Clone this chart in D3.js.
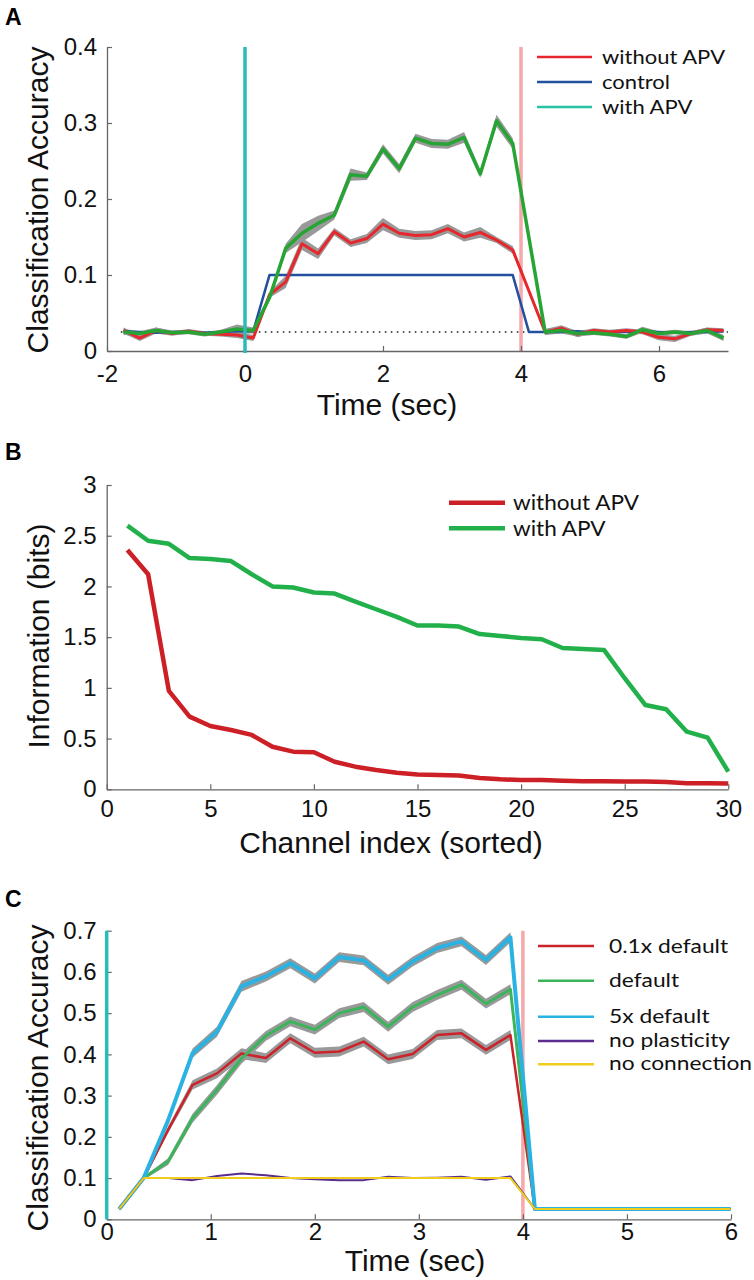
<!DOCTYPE html>
<html>
<head>
<meta charset="utf-8">
<script src="https://cdn.jsdelivr.net/npm/d3@7"></script>
<style>
  html, body { margin: 0; padding: 0; background: #fff; }
  svg { display: block; }
  .tick text { font-family: "Liberation Sans", Arial, sans-serif; font-size: 24px; fill: #111; }
  .axlabel { font-family: "Liberation Sans", Arial, sans-serif; font-size: 30px; fill: #111; }
  .legend text { font-family: Lato, "Open Sans", sans-serif; fill: #111; }
  .panel { font-family: "Liberation Sans", Arial, sans-serif; font-size: 23px; font-weight: bold; fill: #000; }
</style>
</head>
<body>
<script>
// ---------------- Panel A data ----------------
const timesA = [-1.76,-1.525,-1.29,-1.055,-0.82,-0.585,-0.35,-0.115,0.12,0.355,0.59,0.825,1.06,1.295,1.53,1.765,2.0,2.235,2.47,2.705,2.94,3.175,3.41,3.645,3.88,4.115,4.35,4.585,4.82,5.055,5.29,5.525,5.76,5.995,6.23,6.465,6.7,6.935];
const withoutAPV_A = [0.027,0.017,0.027,0.023,0.026,0.023,0.022,0.021,0.017,0.074,0.091,0.141,0.128,0.157,0.142,0.148,0.167,0.155,0.152,0.153,0.161,0.150,0.156,0.146,0.133,0.079,0.025,0.030,0.022,0.027,0.025,0.027,0.025,0.018,0.016,0.023,0.028,0.027];
const withoutAPV_A_sem = [0.004,0.004,0.004,0.003,0.003,0.003,0.003,0.004,0.004,0.004,0.008,0.008,0.007,0.005,0.005,0.006,0.008,0.006,0.006,0.006,0.006,0.006,0.007,0.004,0.005,0.003,0.004,0.004,0.004,0.003,0.003,0.003,0.003,0.004,0.004,0.003,0.003,0.003];
const control_A = [0.026,0.025,0.024,0.025,0.025,0.024,0.025,0.026,0.026,0.1,0.1,0.1,0.1,0.1,0.1,0.1,0.1,0.1,0.1,0.1,0.1,0.1,0.1,0.1,0.1,0.025,0.025,0.025,0.026,0.024,0.025,0.025,0.026,0.025,0.024,0.025,0.025,0.026];
const withAPV_A = [0.025,0.023,0.027,0.024,0.025,0.022,0.025,0.029,0.027,0.070,0.135,0.155,0.168,0.179,0.232,0.230,0.266,0.240,0.280,0.273,0.272,0.281,0.233,0.303,0.273,0.149,0.025,0.027,0.023,0.024,0.022,0.019,0.028,0.023,0.025,0.023,0.027,0.017];
const withAPV_A_sem = [0.004,0.003,0.004,0.003,0.003,0.003,0.003,0.006,0.004,0.004,0.006,0.012,0.010,0.006,0.008,0.005,0.006,0.006,0.006,0.006,0.006,0.007,0.005,0.008,0.007,0.004,0.004,0.004,0.004,0.003,0.003,0.003,0.004,0.003,0.003,0.003,0.004,0.004];
const xTicksA = [-2,0,2,4,6];
const yTicksA = [0,0.1,0.2,0.3,0.4];
const legendA = ["without APV","control","with APV"];

// ---------------- Panel B data ----------------
const channelsB = [1,2,3,4,5,6,7,8,9,10,11,12,13,14,15,16,17,18,19,20,21,22,23,24,25,26,27,28,29,30];
const withoutAPV_B = [2.36,2.12,0.97,0.716,0.624,0.585,0.536,0.42,0.371,0.365,0.272,0.223,0.19,0.164,0.145,0.141,0.135,0.111,0.098,0.092,0.092,0.085,0.079,0.079,0.076,0.076,0.073,0.059,0.059,0.056];
const withAPV_B = [2.60,2.45,2.42,2.28,2.27,2.25,2.12,2.00,1.99,1.94,1.93,1.85,1.775,1.70,1.615,1.614,1.604,1.53,1.512,1.492,1.479,1.393,1.383,1.374,1.095,0.831,0.789,0.568,0.509,0.174];
const xTicksB = [0,5,10,15,20,25,30];
const yTicksB = [0,0.5,1,1.5,2,2.5,3];
const legendB = ["without APV","with APV"];

// ---------------- Panel C data ----------------
const timesC = [0.12,0.355,0.59,0.825,1.06,1.295,1.53,1.765,2.0,2.235,2.47,2.705,2.94,3.175,3.41,3.645,3.88,4.115,4.35,4.585,4.82,5.055,5.29,5.525,5.76,5.995];
const tenthDefault_C = [0.025,0.1,0.217,0.326,0.354,0.402,0.391,0.439,0.404,0.407,0.431,0.388,0.401,0.447,0.451,0.411,0.447,0.025,0.025,0.025,0.025,0.025,0.025,0.025,0.025,0.025];
const default_C = [0.025,0.1,0.14,0.245,0.314,0.39,0.445,0.48,0.46,0.5,0.515,0.467,0.515,0.544,0.569,0.523,0.558,0.025,0.025,0.025,0.025,0.025,0.025,0.025,0.025,0.025];
const fiveDefault_C = [0.025,0.1,0.24,0.403,0.455,0.565,0.589,0.621,0.584,0.636,0.628,0.581,0.625,0.658,0.674,0.629,0.684,0.025,0.025,0.025,0.025,0.025,0.025,0.025,0.025,0.025];
const noPlasticity_C = [0.025,0.1,0.1,0.095,0.105,0.111,0.107,0.1,0.097,0.095,0.095,0.103,0.1,0.101,0.103,0.096,0.104,0.025,0.025,0.025,0.025,0.025,0.025,0.025,0.025,0.025];
const noConnection_C = [0.025,0.1,0.1,0.1,0.1,0.1,0.1,0.1,0.1,0.1,0.1,0.1,0.1,0.1,0.1,0.1,0.1,0.025,0.025,0.025,0.025,0.025,0.025,0.025,0.025,0.025];
const semC = [0.002,0.004,0.008,0.011,0.012,0.013,0.012,0.012,0.012,0.012,0.012,0.012,0.012,0.012,0.012,0.012,0.012,0.002,0.001,0.001,0.001,0.001,0.001,0.001,0.001,0.001];
const xTicksC = [0,1,2,3,4,5,6];
const yTicksC = [0,0.1,0.2,0.3,0.4,0.5,0.6,0.7];
const legendC = ["0.1x default","default","5x default","no plasticity","no connection"];

// ---------------- Drawing ----------------
const svg = d3.select("body").append("svg").attr("width", 754).attr("height", 1280);

function fmt(d) { return d === 0 ? "0" : String(d); }

function drawAxes(g, x, y, xt, yt, xPad, yFmt) {
  const ya = g.append("g").attr("transform", `translate(${x.range()[0]},0)`)
    .call(d3.axisLeft(y).tickValues(yt).tickSize(-5).tickSizeOuter(0).tickPadding(10).tickFormat(yFmt));
  const xa = g.append("g").attr("transform", `translate(0,${y.range()[0]})`)
    .call(d3.axisBottom(x).tickValues(xt).tickSize(-5).tickSizeOuter(0).tickPadding(xPad).tickFormat(fmt));
  [ya, xa].forEach(a => {
    a.select(".domain").attr("stroke", "#666").attr("stroke-width", 1.3);
    a.selectAll(".tick line").attr("stroke", "#666").attr("stroke-width", 1.2);
  });
  return [ya, xa];
}

function band(g, x, y, xs, vs, ss, fill) {
  const area = d3.area().x((d, i) => x(xs[i])).y0((d, i) => y(vs[i] - ss[i])).y1((d, i) => y(vs[i] + ss[i]));
  g.append("path").datum(vs).attr("d", area).attr("fill", fill).attr("stroke", "none");
}
function line(g, x, y, xs, vs, color, w) {
  const ln = d3.line().x((d, i) => x(xs[i])).y(d => y(d));
  g.append("path").datum(vs).attr("d", ln).attr("fill", "none").attr("stroke", color)
    .attr("stroke-width", w).attr("stroke-linejoin", "round");
}
function legendText(lg, x, y, t, size, sx) {
  lg.append("text").attr("transform", `translate(${x},${y}) scale(${sx},1)`)
    .style("font-size", size + "px").text(t);
}

// ===== Panel A =====
{
  const g = svg.append("g");
  const x = d3.scaleLinear().domain([-2, 7]).range([107, 728]);
  const y = d3.scaleLinear().domain([0, 0.4]).range([351, 47]);
  svg.append("text").attr("class", "panel").attr("x", 5).attr("y", 25).text("A");

  g.append("line").attr("x1", x(-1.8)).attr("x2", x(7)).attr("y1", y(0.025)).attr("y2", y(0.025))
    .attr("stroke", "#222").attr("stroke-width", 1.6).attr("stroke-dasharray", "1.6,4.4");
  g.append("line").attr("x1", x(4)).attr("x2", x(4)).attr("y1", y(0)).attr("y2", y(0.4))
    .attr("stroke", "#f5a9ab").attr("stroke-width", 3.5);

  drawAxes(g, x, y, xTicksA, yTicksA, 14, fmt);

  band(g, x, y, timesA, withoutAPV_A, withoutAPV_A_sem, "#999");
  band(g, x, y, timesA, withAPV_A, withAPV_A_sem, "#999");
  line(g, x, y, timesA, control_A, "#23509e", 2.6);
  line(g, x, y, timesA, withoutAPV_A, "#e8272c", 3);
  line(g, x, y, timesA, withAPV_A, "#26a535", 3.5);

  g.append("line").attr("x1", x(0)).attr("x2", x(0)).attr("y1", y(0) + 2).attr("y2", y(0.4))
    .attr("stroke", "#28bdb9").attr("stroke-width", 3.5);

  g.append("text").attr("class", "axlabel").attr("transform", "translate(48,200) rotate(-90)")
    .attr("text-anchor", "middle").text("Classification Accuracy");
  g.append("text").attr("class", "axlabel").attr("x", 387).attr("y", 415)
    .attr("text-anchor", "middle").text("Time (sec)");

  const cols = ["#e8272c", "#23509e", "#27c2a6"];
  const rowY = [57, 82, 107];
  const lg = g.append("g").attr("class", "legend");
  legendA.forEach((t, i) => {
    lg.append("line").attr("x1", 537).attr("x2", 592).attr("y1", rowY[i]).attr("y2", rowY[i])
      .attr("stroke", cols[i]).attr("stroke-width", 2.6);
    legendText(lg, 602, rowY[i] + 7, t, 20, 1.1);
  });
}

// ===== Panel B =====
{
  const g = svg.append("g");
  const x = d3.scaleLinear().domain([0, 30]).range([106.7, 728.3]);
  const y = d3.scaleLinear().domain([0, 3]).range([789.3, 485]);
  svg.append("text").attr("class", "panel").attr("x", 5).attr("y", 460).text("B");

  drawAxes(g, x, y, xTicksB, yTicksB, 11, fmt);

  line(g, x, y, channelsB, withAPV_B, "#22b04b", 4.5);
  line(g, x, y, channelsB, withoutAPV_B, "#cc1f26", 4.5);

  g.append("text").attr("class", "axlabel").attr("transform", "translate(49,636) rotate(-90)")
    .attr("text-anchor", "middle").text("Information (bits)");
  g.append("text").attr("class", "axlabel").attr("x", 391).attr("y", 853)
    .attr("text-anchor", "middle").text("Channel index (sorted)");

  const cols = ["#cc1f26", "#22b04b"];
  const rowY = [502.7, 528.3];
  const lg = g.append("g").attr("class", "legend");
  legendB.forEach((t, i) => {
    lg.append("line").attr("x1", 449).attr("x2", 505).attr("y1", rowY[i]).attr("y2", rowY[i])
      .attr("stroke", cols[i]).attr("stroke-width", 4.5);
    legendText(lg, 513, rowY[i] + 7.5, t, 20.5, 1.1);
  });
}

// ===== Panel C =====
{
  const g = svg.append("g");
  const x = d3.scaleLinear().domain([0, 6]).range([106.7, 731]);
  const y = d3.scaleLinear().domain([0, 0.7]).range([1219.3, 930.7]);
  svg.append("text").attr("class", "panel").attr("x", 5).attr("y", 907).text("C");

  g.append("line").attr("x1", x(4)).attr("x2", x(4)).attr("y1", y(0)).attr("y2", y(0.7))
    .attr("stroke", "#f5a9ab").attr("stroke-width", 3.5);

  drawAxes(g, x, y, xTicksC, yTicksC, 4, fmt);

  band(g, x, y, timesC, fiveDefault_C, semC, "#999");
  band(g, x, y, timesC, default_C, semC, "#999");
  band(g, x, y, timesC, tenthDefault_C, semC, "#999");
  line(g, x, y, timesC, tenthDefault_C, "#cc2229", 2.5);
  line(g, x, y, timesC, default_C, "#3cb45c", 3);
  line(g, x, y, timesC, fiveDefault_C, "#2ab2e2", 4);
  line(g, x, y, timesC, noPlasticity_C, "#5a2d8e", 2);
  line(g, x, y, timesC, noConnection_C, "#f0cd1c", 2);

  g.append("line").attr("x1", x(0)).attr("x2", x(0)).attr("y1", y(0)).attr("y2", y(0.7))
    .attr("stroke", "#28bdb9").attr("stroke-width", 3.5);

  g.append("text").attr("class", "axlabel").attr("transform", "translate(48,1078) rotate(-90)")
    .attr("text-anchor", "middle").text("Classification Accuracy");
  g.append("text").attr("class", "axlabel").attr("x", 415).attr("y", 1271)
    .attr("text-anchor", "middle").text("Time (sec)");

  const cols = ["#cc2229", "#3cb45c", "#2ab2e2", "#5a2d8e", "#f0cd1c"];
  const rowY = [946, 980.7, 1016.7, 1041, 1064.3];
  const txtY = [953, 987, 1023, 1047, 1070];
  const lg = g.append("g").attr("class", "legend");
  legendC.forEach((t, i) => {
    lg.append("line").attr("x1", 538).attr("x2", 594).attr("y1", rowY[i]).attr("y2", rowY[i])
      .attr("stroke", cols[i]).attr("stroke-width", 2.6);
    legendText(lg, 609, txtY[i], t, 19, 1.2);
  });
}
</script>
</body>
</html>
